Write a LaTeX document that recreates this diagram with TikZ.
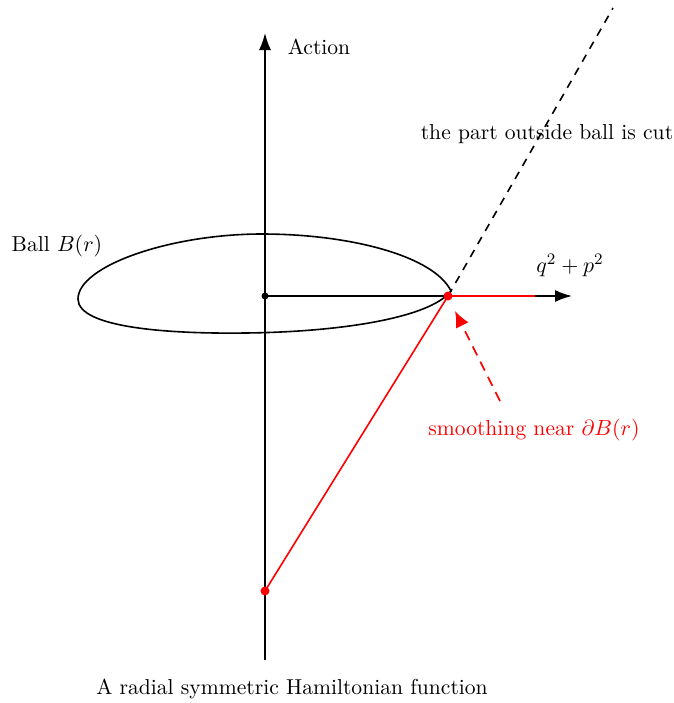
\documentclass[tikz,border=0pt]{standalone}
\usetikzlibrary{arrows.meta}
\begin{document}
\begin{tikzpicture}[x=0.5pt,y=-0.5pt,thick,every node/.style={inner sep=1pt,font=\fontsize{10.8}{13}\selectfont},
  axis/.style={-{Latex[length=8.5pt,width=6pt]}},
  smooth part/.style={red,thick}]
\useasboundingbox (0,0) rectangle (674,703);
\coordinate (O) at (265,296);
\coordinate (P) at (448,296);
\coordinate (Ptip) at (451,291);
\coordinate (Q) at (265,591);
\coordinate (Xend) at (572,296);
\coordinate (Yend) at (265,33);
\coordinate (Ybot) at (265,660);
\coordinate (Rend) at (535,296);
\coordinate (Cut) at (613,8);
\coordinate (Sfrom) at (500,401);
\coordinate (Sto) at (455,311);
% axes
\draw[axis] (Ybot) -- (Yend);
\draw[axis] (O) -- (Xend);
% the ball
\draw (Ptip) .. controls (434,256) and (350,234) .. (262,234)
  .. controls (170,234) and (78,266) .. (78,299)
  .. controls (78,328) and (170,334) .. (245,333)
  .. controls (340,332) and (430,318) .. (Ptip);
\draw[dash pattern=on 4pt off 3.5pt] (P) -- (Cut);
% smoothed Hamiltonian
\draw[smooth part] (Q) -- (P) -- (Rend);
\draw[red,dash pattern=on 5pt off 3.5pt,-{Latex[length=8pt,width=7pt]}] (Sfrom) -- (Sto);
\fill (O) circle[radius=3.5];
\fill[red] (P) circle[radius=4.5];
\fill[red] (Q) circle[radius=4.5];
\node[anchor=west] (act) at (285,47) {Action};
\node (qp) at (570,265) {$q^2+p^2$};
\node (ball) at (57,246) {Ball $B(r)$};
\node (cut) at (547,134) {the part outside ball is cut};
\node[red] (smooth) at (534,430) {smoothing near $\partial B(r)$};
\node (title) at (292,689) {A radial symmetric Hamiltonian function};
\end{tikzpicture}
\end{document}
